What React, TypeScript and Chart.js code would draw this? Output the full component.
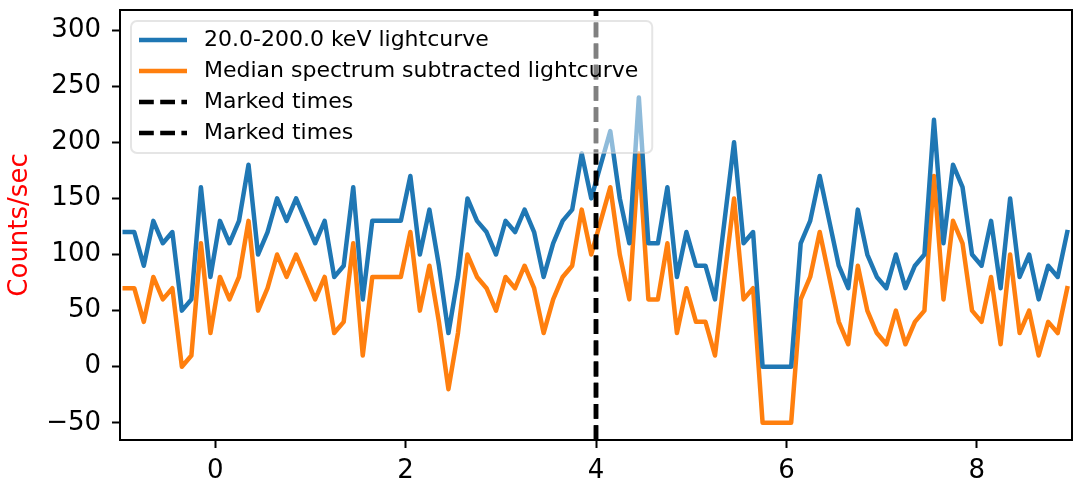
import React, { useEffect, useRef } from "react";
import { Chart, registerables } from "chart.js";

Chart.register(...registerables);

// Time-bin centres (s)
const times = [
  -0.95, -0.85, -0.75, -0.65, -0.55, -0.45, -0.35, -0.25, -0.15, -0.05,
  0.05, 0.15, 0.25, 0.35, 0.45, 0.55, 0.65, 0.75, 0.85, 0.95,
  1.05, 1.15, 1.25, 1.35, 1.45, 1.55, 1.65, 1.75, 1.85, 1.95,
  2.05, 2.15, 2.25, 2.35, 2.45, 2.55, 2.65, 2.75, 2.85, 2.95,
  3.05, 3.15, 3.25, 3.35, 3.45, 3.55, 3.65, 3.75, 3.85, 3.95,
  4.05, 4.15, 4.25, 4.35, 4.45, 4.55, 4.65, 4.75, 4.85, 4.95,
  5.05, 5.15, 5.25, 5.35, 5.45, 5.55, 5.65, 5.75, 5.85, 5.95,
  6.05, 6.15, 6.25, 6.35, 6.45, 6.55, 6.65, 6.75, 6.85, 6.95,
  7.05, 7.15, 7.25, 7.35, 7.45, 7.55, 7.65, 7.75, 7.85, 7.95,
  8.05, 8.15, 8.25, 8.35, 8.45, 8.55, 8.65, 8.75, 8.85, 8.95,
];

// 20.0-200.0 keV lightcurve (counts/sec)
const totalRate = [
  120, 120, 90, 130, 110, 120, 50, 60, 160, 80,
  130, 110, 130, 180, 100, 120, 150, 130, 150, 130,
  110, 130, 80, 90, 160, 60, 130, 130, 130, 130,
  170, 100, 140, 90, 30, 80, 150, 130, 120, 100,
  130, 120, 140, 120, 80, 110, 130, 140, 190, 150,
  180, 210, 150, 110, 240, 110, 110, 160, 80, 120,
  90, 90, 60, 130, 200, 110, 120, 0, 0, 0,
  0, 110, 130, 170, 130, 90, 70, 140, 100, 80,
  70, 100, 70, 90, 100, 220, 110, 180, 160, 100,
  90, 130, 70, 150, 80, 100, 60, 90, 80, 120,
];

// Median spectrum subtracted lightcurve (counts/sec)
const subtractedRate = [
  70, 70, 40, 80, 60, 70, 0, 10, 110, 30,
  80, 60, 80, 130, 50, 70, 100, 80, 100, 80,
  60, 80, 30, 40, 110, 10, 80, 80, 80, 80,
  120, 50, 90, 40, -20, 30, 100, 80, 70, 50,
  80, 70, 90, 70, 30, 60, 80, 90, 140, 100,
  130, 160, 100, 60, 190, 60, 60, 110, 30, 70,
  40, 40, 10, 80, 150, 60, 70, -50, -50, -50,
  -50, 60, 80, 120, 80, 40, 20, 90, 50, 30,
  20, 50, 20, 40, 50, 170, 60, 130, 110, 50,
  40, 80, 20, 100, 30, 50, 10, 40, 30, 70,
];

const markedTimes = [4.0, 4.0];
const xTickValues = [0, 2, 4, 6, 8];
const yTickValues = [-50, 0, 50, 100, 150, 200, 250, 300];
const xRange = [-1, 9];
const yRange = [-65.3, 317.9];

const seriesLabels = [
  "20.0-200.0 keV lightcurve",
  "Median spectrum subtracted lightcurve",
  "Marked times",
];
const yTitle = "Counts/sec";

const BLUE = "#1f77b4";
const ORANGE = "#ff7f0e";
const FONT = '"DejaVu Sans", "Liberation Sans", sans-serif';
const LW = 4.5;

const overlayPlugin = {
  id: "overlay",
  afterDatasetsDraw(chart: any) {
    const { ctx, chartArea: a, scales } = chart;
    const x = scales.x;
    const dash = [14.8, 6.4];

    // marked times (vertical dashed lines)
    ctx.save();
    ctx.beginPath();
    ctx.rect(a.left, a.top, a.right - a.left, a.bottom - a.top);
    ctx.clip();
    ctx.setLineDash(dash);
    ctx.lineWidth = LW;
    ctx.strokeStyle = "#000";
    ctx.lineCap = "butt";
    markedTimes.forEach((t) => {
      const px = x.getPixelForValue(t);
      ctx.beginPath();
      ctx.moveTo(px, a.bottom);
      ctx.lineTo(px, a.top);
      ctx.stroke();
    });
    ctx.restore();

    // frame (spines)
    ctx.save();
    ctx.strokeStyle = "#000";
    ctx.lineWidth = 2;
    ctx.strokeRect(a.left, a.top, a.right - a.left, a.bottom - a.top);
    ctx.restore();

    // legend
    const entries = [
      { label: seriesLabels[0], color: BLUE, dashed: false },
      { label: seriesLabels[1], color: ORANGE, dashed: false },
      { label: seriesLabels[2], color: "#000", dashed: true },
      { label: seriesLabels[2], color: "#000", dashed: true },
    ];
    ctx.save();
    ctx.font = `22px ${FONT}`;
    let maxW = 0;
    entries.forEach((e) => {
      maxW = Math.max(maxW, ctx.measureText(e.label).width);
    });
    const bx = a.left + 11;
    const by = a.top + 11;
    const bw = 73 + maxW + 14;
    const bh = 132;
    ctx.beginPath();
    ctx.roundRect(bx, by, bw, bh, 6);
    ctx.fillStyle = "rgba(255,255,255,0.5)";
    ctx.fill();
    ctx.lineWidth = 2;
    ctx.strokeStyle = "rgba(204,204,204,0.5)";
    ctx.stroke();
    entries.forEach((e, i) => {
      const cy = by + 19 + i * 31;
      ctx.beginPath();
      ctx.setLineDash(e.dashed ? dash : []);
      ctx.lineWidth = LW;
      ctx.lineCap = "butt";
      ctx.strokeStyle = e.color;
      ctx.moveTo(bx + 8, cy);
      ctx.lineTo(bx + 56, cy);
      ctx.stroke();
      ctx.setLineDash([]);
      ctx.fillStyle = "#000";
      ctx.textBaseline = "middle";
      ctx.textAlign = "left";
      ctx.fillText(e.label, bx + 73, cy);
    });
    ctx.restore();
  },
};

export default function App() {
  const canvasRef = useRef<HTMLCanvasElement | null>(null);

  useEffect(() => {
    const canvas = canvasRef.current;
    if (!canvas) return;
    Chart.defaults.font.family = FONT;
    const chart = new Chart(canvas, {
      type: "line",
      data: {
        datasets: [
          {
            label: seriesLabels[0],
            data: times.map((t, i) => ({ x: t, y: totalRate[i] })),
            borderColor: BLUE,
            backgroundColor: BLUE,
            borderWidth: LW,
            pointRadius: 0,
            tension: 0,
            borderJoinStyle: "round",
            borderCapStyle: "square",
          },
          {
            label: seriesLabels[1],
            data: times.map((t, i) => ({ x: t, y: subtractedRate[i] })),
            borderColor: ORANGE,
            backgroundColor: ORANGE,
            borderWidth: LW,
            pointRadius: 0,
            tension: 0,
            borderJoinStyle: "round",
            borderCapStyle: "square",
          },
        ],
      },
      options: {
        animation: false,
        responsive: true,
        maintainAspectRatio: false,
        layout: { padding: { top: 10, right: 1, bottom: 0, left: 0 } },
        plugins: {
          legend: { display: false },
          tooltip: { enabled: false },
        },
        scales: {
          x: {
            type: "linear",
            min: xRange[0],
            max: xRange[1],
            afterBuildTicks: (s: any) => {
              s.ticks = xTickValues.map((v) => ({ value: v }));
            },
            afterFit: (s: any) => {
              s.height = 41;
              s.paddingLeft = 0;
              s.paddingRight = 0;
              s.paddingTop = 0;
              s.paddingBottom = 0;
            },
            ticks: {
              color: "#000",
              font: { size: 26 },
              padding: 8,
              maxRotation: 0,
              autoSkip: false,
            },
            grid: {
              drawOnChartArea: false,
              drawTicks: true,
              tickLength: 8,
              tickWidth: 2,
              tickColor: "#000",
            },
            border: { display: true, color: "#000", width: 2 },
          },
          y: {
            type: "linear",
            min: yRange[0],
            max: yRange[1],
            afterBuildTicks: (s: any) => {
              s.ticks = yTickValues.map((v) => ({ value: v }));
            },
            afterFit: (s: any) => {
              s.width = 120;
              s.paddingLeft = 0;
              s.paddingRight = 0;
              s.paddingTop = 0;
              s.paddingBottom = 0;
            },
            ticks: {
              color: "#000",
              font: { size: 26 },
              padding: 11,
              autoSkip: false,
              callback: (v: any) => (Number(v) < 0 ? "\u2212" + Math.abs(Number(v)) : String(v)),
            },
            grid: {
              drawOnChartArea: false,
              drawTicks: true,
              tickLength: 8,
              tickWidth: 2,
              tickColor: "#000",
            },
            border: { display: true, color: "#000", width: 2 },
            title: {
              display: true,
              text: yTitle,
              color: "red",
              font: { size: 26 },
              padding: { top: 5, bottom: 0 },
            },
          },
        },
      },
      plugins: [overlayPlugin],
    });
    return () => chart.destroy();
  }, []);

  return (
    <div
      style={{
        position: "absolute",
        left: 0,
        top: 0,
        width: 1073,
        height: 481,
        background: "#fff",
      }}
    >
      <canvas ref={canvasRef} />
    </div>
  );
}
